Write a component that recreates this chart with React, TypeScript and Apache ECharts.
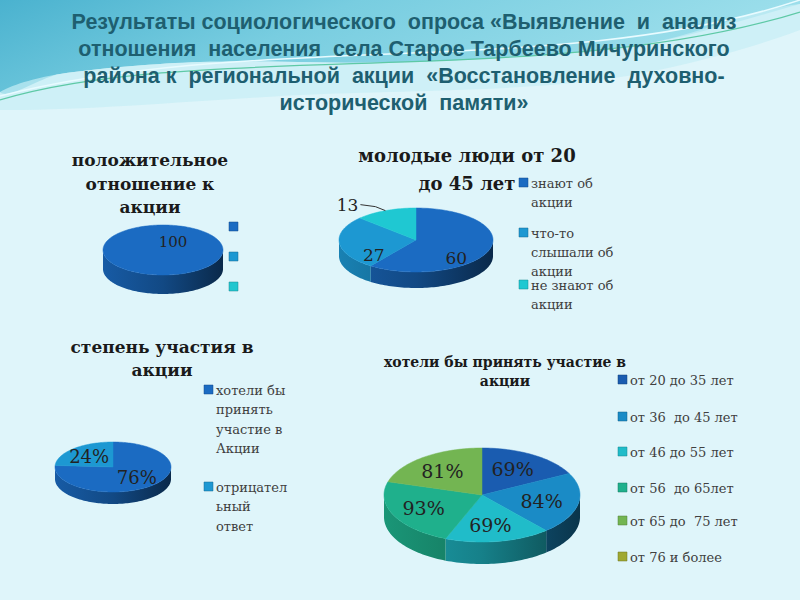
import React, { useEffect, useRef } from "react";
import * as echarts from "echarts";

// ---------- DATA ----------
const mainTitle =
  "Результаты социологического  опроса «Выявление  и  анализ\nотношения  населения  села Старое Тарбеево Мичуринского\nрайона к  региональной  акции  «Восстановление  духовно-\nисторической  памяти»";

const title1 = "положительное\nотношение к\nакции";
const values1 = [100];
const legend1 = ["", "", ""];

const title2 = "молодые люди от 20\nдо 45 лет";
const values2 = [60, 27, 13];
const legend2 = ["знают об\nакции", "что-то\nслышали об\nакции", "не знают об\nакции"];

const title3 = "степень участия в\nакции";
const values3 = [76, 24];
const legend3 = ["хотели бы\nпринять\nучастие в\nАкции", "отрицател\nьный\nответ"];

const title4 = "хотели бы принять участие в\nакции";
const values4 = [69, 84, 69, 93, 81];
const legend4 = [
  "от 20 до 35 лет",
  "от 36  до 45 лет",
  "от 46 до 55 лет",
  "от 56  до 65лет",
  "от 65 до  75 лет",
  "от 76 и более",
];

// ---------- STYLE ----------
const SERIF = "'DejaVu Serif', 'Liberation Serif', serif";
const SANS = "'Liberation Sans', Arial, sans-serif";
const colors1 = ["#1b6bc2", "#1d98d2", "#22c6cf"];
const colors2 = ["#1b6bc2", "#1d98d2", "#1fc8d2"];
const colors3 = ["#1b6bc2", "#1d98d2"];
const colors4 = ["#1a5cb0", "#1a8bc6", "#20bcc9", "#1fb08c", "#73b552", "#9fa832"];

function shade(hex: string, k: number) {
  const n = parseInt(hex.slice(1), 16);
  const r = Math.round(((n >> 16) & 255) * k);
  const g = Math.round(((n >> 8) & 255) * k);
  const b = Math.round((n & 255) * k);
  return `rgb(${r},${g},${b})`;
}

type PieCfg = {
  values: number[];
  colors: string[];
  cx: number;
  cy: number;
  rx: number;
  ry: number;
  depth: number;
  f: number;
  dx: number;
  dy: number;
  labelSize: number;
  suffix: string;
  outsideBelow?: number;
};

function pie3D(cfg: PieCfg) {
  const total = cfg.values.reduce((a, b) => a + b, 0);
  const P = (t: number, d = 0) => [cfg.cx + cfg.rx * Math.sin(t), cfg.cy - cfg.ry * Math.cos(t) + d];
  const arc = (a: number, b: number, d = 0) => {
    const pts: number[][] = [];
    const n = Math.max(2, Math.ceil(Math.abs(b - a) / 0.03));
    for (let k = 0; k <= n; k++) pts.push(P(a + ((b - a) * k) / n, d));
    return pts;
  };
  return {
    type: "custom",
    coordinateSystem: "none",
    silent: true,
    data: cfg.values.map((v, i) => [v, i]),
    renderItem: (params: any, api: any) => {
      const v = api.value(0);
      const i = api.value(1);
      let before = 0;
      for (let k = 0; k < i; k++) before += cfg.values[k];
      const a0 = (before / total) * Math.PI * 2;
      const a1 = ((before + v) / total) * Math.PI * 2;
      const color = cfg.colors[i];
      const children: any[] = [];
      const s0 = Math.max(a0, Math.PI / 2);
      const s1 = Math.min(a1, (Math.PI * 3) / 2);
      if (s1 > s0) {
        const pts = arc(s0, s1).concat(arc(s1, s0, cfg.depth));
        children.push({
          type: "polygon",
          shape: { points: pts },
          style: {
            fill: {
              type: "linear",
              x: cfg.cx - cfg.rx,
              y: 0,
              x2: cfg.cx + cfg.rx,
              y2: 0,
              global: true,
              colorStops: [
                { offset: 0, color: shade(color, 0.85) },
                { offset: 0.5, color: shade(color, 0.68) },
                { offset: 1, color: shade(color, 0.38) },
              ],
            },
            stroke: "none",
          },
        });
      }
      const top = cfg.values.length === 1 ? arc(0, Math.PI * 2) : [[cfg.cx, cfg.cy]].concat(arc(a0, a1));
      children.push({
        type: "polygon",
        shape: { points: top },
        style: { fill: color, stroke: color, lineWidth: 0.5 },
      });
      const label = `${v}${cfg.suffix}`;
      const mid = (a0 + a1) / 2;
      if (cfg.outsideBelow && v / total < cfg.outsideBelow) {
        const e = P(mid);
        const lx = e[0] - 25;
        const ly = e[1] - 6;
        children.push({
          type: "polyline",
          shape: { points: [e, [e[0] - 10, ly + 2], [lx, ly]] },
          style: { stroke: "#333", lineWidth: 1, fill: "none" },
          z2: 50,
        });
        children.push({
          type: "text",
          z2: 100,
          style: {
            text: label,
            x: lx - 2,
            y: ly,
            align: "right",
            verticalAlign: "middle",
            fill: "#222",
            fontSize: cfg.labelSize,
            fontFamily: SERIF,
          },
        });
      } else {
        const pos =
          cfg.values.length === 1
            ? [cfg.cx + cfg.dx, cfg.cy + cfg.dy]
            : [cfg.cx + cfg.f * cfg.rx * Math.sin(mid) + cfg.dx, cfg.cy - cfg.f * cfg.ry * Math.cos(mid) + cfg.dy];
        children.push({
          type: "text",
          z2: 100,
          style: {
            text: label,
            x: pos[0],
            y: pos[1],
            align: "center",
            verticalAlign: "middle",
            fill: "#222",
            fontSize: cfg.labelSize,
            fontFamily: SERIF,
          },
        });
      }
      return { type: "group", children };
    },
  };
}

function legendEls(items: string[], colors: string[], x: number, ys: number[], fontSize: number, lh: number) {
  const els: any[] = [];
  items.forEach((t, i) => {
    els.push({
      type: "rect",
      shape: { x: x, y: ys[i] - 5, width: 9, height: 9 },
      style: { fill: colors[i], stroke: shade(colors[i], 0.7), lineWidth: 0.5 },
    });
    if (t) {
      els.push({
        type: "text",
        style: {
          text: t,
          x: x + 12,
          y: ys[i] - lh / 2,
          align: "left",
          verticalAlign: "top",
          fontSize,
          lineHeight: lh,
          fontFamily: SERIF,
          fill: "#404040",
        },
      });
    }
  });
  return els;
}

function chartTitle(text: string, x: number, yFirst: number, fontSize: number, lh: number) {
  return {
    type: "text",
    style: {
      text,
      x,
      y: yFirst - lh / 2,
      align: "center",
      verticalAlign: "top",
      fontSize,
      lineHeight: lh,
      fontWeight: "bold",
      fontFamily: SERIF,
      fill: "#1a1a1a",
    },
  };
}

export default function App() {
  const ref = useRef<HTMLDivElement>(null);
  useEffect(() => {
    document.body.style.margin = "0";
    const chart = echarts.init(ref.current!, null, { renderer: "svg" });
    const graphic: any[] = [
      { type: "rect", shape: { x: 0, y: 0, width: 800, height: 600 }, style: { fill: "#dff5fa" }, z: -10 },
      {
        type: "polygon",
        z: -9,
        shape: {
          points: [
            [0, 0],
            [800, 0],
            [800, 4],
            [640, 45],
            [420, 62],
            [200, 62],
            [60, 74],
            [0, 92],
          ],
          smooth: 0.3,
        },
        style: {
          fill: {
            type: "linear",
            x: 0,
            y: 0,
            x2: 1,
            y2: 0.3,
            colorStops: [
              { offset: 0, color: "#45afcd" },
              { offset: 0.45, color: "#78cde0" },
              { offset: 1, color: "#9fe0ec" },
            ],
          },
        },
      },
      {
        type: "polygon",
        z: -9,
        shape: {
          points: [
            [0, 92],
            [60, 74],
            [200, 62],
            [420, 62],
            [640, 45],
            [800, 4],
            [800, 30],
            [600, 80],
            [300, 95],
            [0, 110],
          ],
          smooth: 0.3,
        },
        style: { fill: "#c6eef5", opacity: 0.7 },
      },
      {
        type: "bezierCurve",
        z: -8,
        shape: { x1: 0, y1: 100, x2: 800, y2: 12, cpx1: 200, cpy1: 40, cpx2: 550, cpy2: 90 },
        style: { stroke: "#5ec9a6", lineWidth: 1.2, fill: "none" },
      },
      {
        type: "bezierCurve",
        z: -8,
        shape: { x1: 0, y1: 96, x2: 800, y2: 0, cpx1: 260, cpy1: 30, cpx2: 560, cpy2: 80 },
        style: { stroke: "#e8fbff", lineWidth: 1.5, fill: "none" },
      },
      {
        type: "text",
        style: {
          text: mainTitle,
          x: 404,
          y: 8,
          align: "center",
          verticalAlign: "top",
          fontSize: 21.5,
          lineHeight: 27,
          fontWeight: "bold",
          fontFamily: SANS,
          fill: "#1e5f70",
        },
      },
      chartTitle(title1, 150, 160, 17, 23.5),
      chartTitle(title2, 467, 155, 18, 28),
      chartTitle(title3, 162, 347, 17, 23),
      chartTitle(title4, 505, 362, 14, 19),
      ...legendEls(legend1, colors1, 229, [227, 257, 287], 13, 19),
      ...legendEls(legend2, colors2, 519, [183, 233, 285], 13, 19),
      ...legendEls(legend3, colors3, 204, [390, 487], 13, 19.5),
      ...legendEls(legend4, colors4, 618, [380, 417, 452, 488, 521, 557], 13, 19),
    ];
    chart.setOption({
      animation: false,
      graphic,
      series: [
        pie3D({ values: values1, colors: colors1, cx: 163, cy: 250, rx: 60, ry: 25, depth: 19, f: 0.55, dx: 10, dy: -8, labelSize: 15, suffix: "" }),
        pie3D({ values: values2, colors: colors2, cx: 416, cy: 240, rx: 77, ry: 32, depth: 16, f: 0.55, dx: 0, dy: 13, labelSize: 17, suffix: "", outsideBelow: 0.15 }),
        pie3D({ values: values3, colors: colors3, cx: 113, cy: 467, rx: 58, ry: 25, depth: 12, f: 0.6, dx: 0, dy: 0, labelSize: 18, suffix: "%" }),
        pie3D({ values: values4, colors: colors4, cx: 482, cy: 495, rx: 98, ry: 47, depth: 22, f: 0.64, dx: -2, dy: 0, labelSize: 19, suffix: "%" }),
      ],
    });
    return () => chart.dispose();
  }, []);
  return <div ref={ref} style={{ width: 800, height: 600 }} />;
}
